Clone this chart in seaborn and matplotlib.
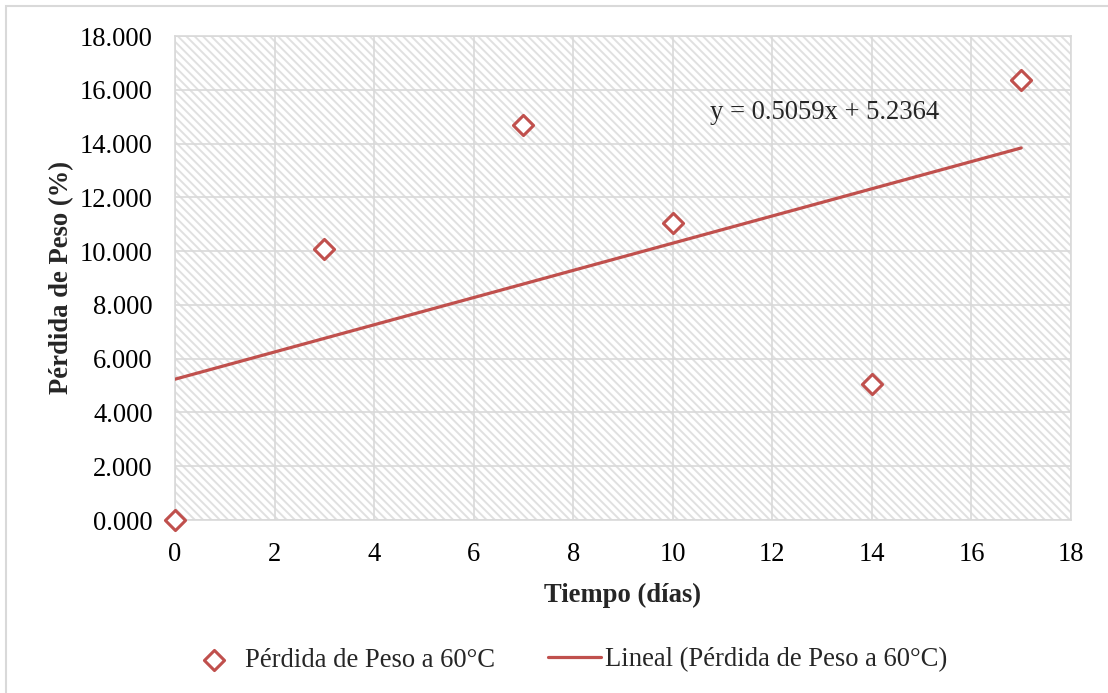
import numpy as np
import pandas as pd
import matplotlib
matplotlib.use("Agg")
import matplotlib.pyplot as plt
from matplotlib.patches import Rectangle
from matplotlib.ticker import FormatStrFormatter, MultipleLocator
import seaborn as sns

# Weight loss measurements at 60 °C
dias = [0, 3, 7, 10, 14, 17]
perdida = [0.000, 10.08, 14.70, 11.03, 5.07, 16.38]

# Linear trend coefficients as reported on the chart
pendiente = 0.5059
intercepto = 5.2364

serie_label = "Pérdida de Peso a 60°C"
tendencia_label = "Lineal (Pérdida de Peso a 60°C)"
x_label = "Tiempo (días)"
y_label = "Pérdida de Peso (%)"
ecuacion = f"y = {pendiente:.4f}x + {intercepto:.4f}"

sns.set_style("white")
plt.rcParams["font.family"] = ["Liberation Serif", "DejaVu Serif"]
plt.rcParams["hatch.linewidth"] = 1.4

rojo = "#c0504d"
gris = "#d9d9d9"
fs = 19.2

fig = plt.figure(figsize=(11.08, 6.93), dpi=100)
ax = fig.add_axes([175 / 1108, 1 - 520 / 693, (1071 - 175) / 1108, (520 - 36) / 693])

# Outer chart border
fig.patches.append(Rectangle((6 / 1108, -0.2), 2.0, 1 - 6 / 693 + 0.2,
                             transform=fig.transFigure, fill=False,
                             edgecolor=gris, linewidth=1.5, zorder=0))

# Hatched plot-area background
ax.add_patch(Rectangle((0, 0), 1, 1, transform=ax.transAxes, facecolor="white",
                       edgecolor="#e0e0e0", linewidth=0, hatch="\\\\\\\\", zorder=0))

df = pd.DataFrame({"dias": dias, "perdida": perdida})
x_fit = np.array([min(dias), max(dias)], dtype=float)
df_fit = pd.DataFrame({"dias": x_fit, "perdida": pendiente * x_fit + intercepto})

sns.lineplot(data=df_fit, x="dias", y="perdida", ax=ax, color=rojo, linewidth=2.3,
             label=tendencia_label, zorder=3)
sns.scatterplot(data=df, x="dias", y="perdida", ax=ax, marker="D", s=105,
                facecolor="white", edgecolor=rojo, linewidth=2.2,
                label=serie_label, zorder=4, clip_on=False)

ax.set_xlim(0, 18)
ax.set_ylim(0, 18)
ax.xaxis.set_major_locator(MultipleLocator(2))
ax.yaxis.set_major_locator(MultipleLocator(2))
ax.yaxis.set_major_formatter(FormatStrFormatter("%.3f"))
ax.grid(True, color=gris, linewidth=1.2, zorder=1)
ax.set_axisbelow(False)
for s in ax.spines.values():
    s.set_color(gris)
    s.set_linewidth(1.2)
ax.tick_params(axis="both", length=0, labelsize=fs, pad=16, colors="black")

ax.set_xlabel(x_label, fontsize=fs, fontweight="bold", labelpad=11)
ax.set_ylabel(y_label, fontsize=fs, fontweight="bold", labelpad=4)

ax.text(10.75, 15.15, ecuacion, fontsize=fs, ha="left", va="center", zorder=5)

handles, labels = ax.get_legend_handles_labels()
ax.get_legend().remove()
order = [labels.index(serie_label), labels.index(tendencia_label)]
fig.legend([handles[i] for i in order], [labels[i] for i in order],
           loc="center", bbox_to_anchor=(567.5 / 1108, 1 - 660 / 693), ncol=2,
           frameon=False, fontsize=fs, handlelength=2.0, handletextpad=0.15,
           columnspacing=2.0)

fig.savefig("out.png", dpi=100)
